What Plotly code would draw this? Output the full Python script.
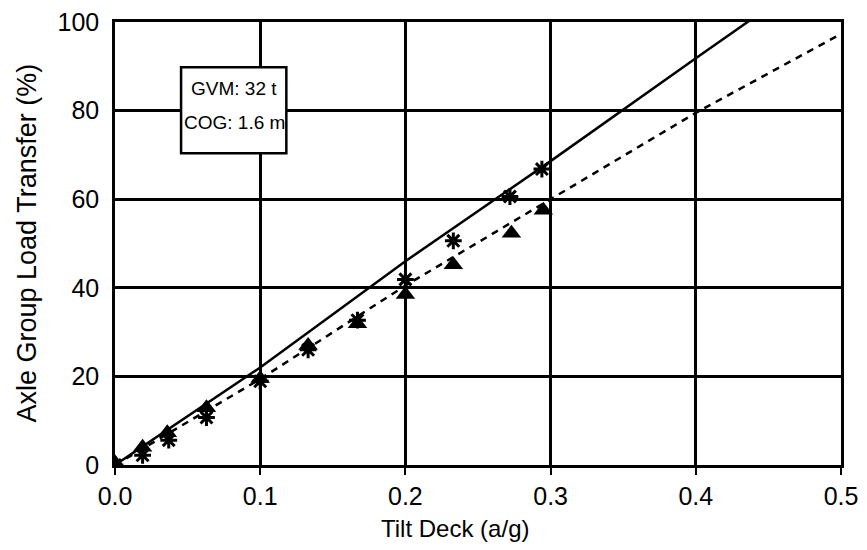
import plotly.graph_objects as go

# Fitted lines
solid_x = [0.0, 0.1, 0.2, 0.3, 0.4, 0.44]
solid_y = [0.0, 22.0, 46.0, 68.6, 91.8, 101.0]
dash_x = [0.0, 0.1, 0.2, 0.3, 0.4, 0.5]
dash_y = [0.0, 19.4, 40.5, 60.0, 79.5, 97.3]

# Measured points
ast_x = [0.0, 0.019, 0.037, 0.063, 0.1, 0.133, 0.167, 0.2, 0.233, 0.272, 0.294]
ast_y = [0.0, 2.2, 5.6, 10.7, 18.9, 26.0, 32.7, 41.9, 50.6, 60.6, 66.8]
tri_x = [0.0, 0.019, 0.036, 0.063, 0.1, 0.133, 0.167, 0.2, 0.233, 0.273, 0.295]
tri_y = [0.5, 4.0, 7.3, 12.9, 19.5, 27.0, 31.9, 38.5, 45.2, 52.3, 57.5]

x_ticks = [0.0, 0.1, 0.2, 0.3, 0.4, 0.5]
x_labels = ["0.0", "0.1", "0.2", "0.3", "0.4", "0.5"]
y_ticks = [0, 20, 40, 60, 80, 100]

box_lines = ["GVM: 32 t", "COG: 1.6 m"]

font = "Liberation Sans, Arial, sans-serif"

T, B = 14, 93
PH = 550 - T - B

fig = go.Figure()
fig.add_trace(go.Scatter(x=solid_x, y=solid_y, mode="lines",
                         line=dict(color="black", width=2.5), showlegend=False))
fig.add_trace(go.Scatter(x=dash_x, y=dash_y, mode="lines",
                         line=dict(color="black", width=2.5, dash="7px,6px"), showlegend=False))
fig.add_trace(go.Scatter(x=tri_x, y=tri_y, mode="markers",
                         marker=dict(symbol="triangle-up", size=17, color="black"), showlegend=False))
fig.add_trace(go.Scatter(x=ast_x, y=ast_y, mode="markers",
                         marker=dict(symbol="asterisk-open", size=14, color="black",
                                     line=dict(color="black", width=3)), showlegend=False))

fig.add_shape(type="rect", xref="x", yref="y", x0=0.0455, x1=0.118, y0=70.4, y1=89.8,
              line=dict(color="black", width=2.5), fillcolor="white", layer="above")

fig.update_layout(
    width=867, height=550,
    margin=dict(l=107, r=34, t=T, b=B),
    paper_bgcolor="white", plot_bgcolor="white",
    font=dict(family=font, color="black", size=22),
    xaxis=dict(range=[0, 0.5], tickvals=x_ticks, ticktext=x_labels,
               showgrid=True, gridcolor="black", gridwidth=2.5,
               showline=True, linecolor="black", linewidth=2.5, mirror=True,
               ticks="outside", ticklen=7, tickwidth=2, tickcolor="black",
               zeroline=False, tickfont=dict(size=25), automargin=False,
               ticklabeloverflow="allow"),
    yaxis=dict(range=[0, 100], tickvals=y_ticks,
               showgrid=True, gridcolor="black", gridwidth=2.5,
               showline=True, linecolor="black", linewidth=2.5, mirror=True,
               ticks="", zeroline=False, tickfont=dict(size=25),
               ticklabelstandoff=8, automargin=False,
               ticklabeloverflow="allow"),
    annotations=[
        dict(text="Tilt Deck (a/g)", xref="paper", yref="paper",
             x=(455 - 115) / 726, y=-63 / PH, showarrow=False,
             font=dict(size=24), xanchor="center", yanchor="middle"),
        dict(text="Axle Group Load Transfer (%)", xref="paper", yref="paper",
             x=-89 / 726, y=0.5, showarrow=False, textangle=-90,
             font=dict(size=27), xanchor="center", yanchor="middle"),
        dict(text=box_lines[0], xref="x", yref="y", x=0.082, y=85.1,
             showarrow=False, font=dict(size=19), xanchor="center", yanchor="middle"),
        dict(text=box_lines[1], xref="x", yref="y", x=0.082, y=77.3,
             showarrow=False, font=dict(size=19), xanchor="center", yanchor="middle"),
    ],
)

fig.write_html("out.html")
